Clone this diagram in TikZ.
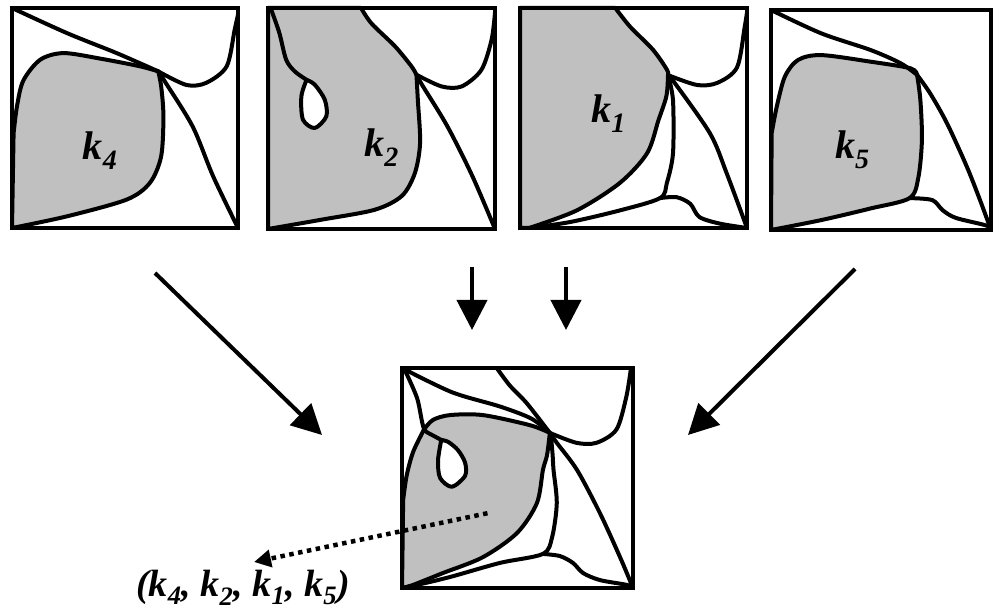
\documentclass[tikz,border=0pt]{standalone}
\usepackage{fontspec}
\setmainfont{Liberation Serif}
\usetikzlibrary{arrows.meta}
\definecolor{fillgray}{RGB}{192,192,192}
\tikzset{
  curve/.style={line width=4pt, line join=round, line cap=round},
  frame/.style={line width=3.5pt},
  region/.style={fill=fillgray},
  hole/.style={fill=white},
  bigarrow/.style={line width=4pt, -{Triangle[length=30pt,width=30pt]}},
  dotarrow/.style={line width=4.5pt, dash pattern=on 4.5pt off 4.5pt, -{Triangle[length=17pt,width=17pt]}},
  klabel/.style={font=\fontsize{40}{40}\selectfont\bfseries\itshape, inner sep=0pt},
  tuplelabel/.style={font=\fontsize{38}{38}\selectfont\bfseries\itshape, inner sep=0pt},
}
\begin{document}
\begin{tikzpicture}[x=1pt,y=1pt]
\useasboundingbox (0,0) rectangle (993,611);

% ---------- panel k4 ----------
\begin{scope}[shift={(12,383)},x=226pt,y=220pt]
  \filldraw[region,curve] plot[smooth] coordinates {(0.647,0.712) (0.566,0.735) (0.39,0.77) (0.228,0.795) (0.125,0.765) (0.05,0.67) (0.022,0.553) (0.007,0.43)}
    -- (0,0) -- plot[smooth] coordinates {(0,0) (0.243,0.053) (0.507,0.129) (0.61,0.205) (0.66,0.326) (0.67,0.51) (0.66,0.644) (0.647,0.712)} -- cycle;
  \draw[curve] plot[smooth] coordinates {(0,1) (0.243,0.886) (0.463,0.795) (0.647,0.712)};
  \draw[curve] plot[smooth] coordinates {(0.647,0.712) (0.772,0.65) (0.86,0.66) (0.95,0.735) (0.985,0.9) (1,0.97)};
  \draw[curve] plot[smooth] coordinates {(0.647,0.712) (0.68,0.66) (0.8,0.46) (0.89,0.235) (1,0)};
  \draw[frame] (0,0) rectangle (1,1);
  \node[klabel] (k4) at (0.39,0.35) {k\textsubscript{4}};
\end{scope}

% ---------- panel k2 ----------
\begin{scope}[shift={(268,382)},x=227pt,y=221pt]
  \filldraw[region,curve] (0,0) -- (0,1) -- (0.41,1)
    -- plot[smooth] coordinates {(0.41,1) (0.456,0.93) (0.56,0.826) (0.632,0.736) (0.654,0.698)}
    -- plot[smooth] coordinates {(0.654,0.698) (0.66,0.585) (0.67,0.39) (0.647,0.253) (0.59,0.15) (0.47,0.087) (0.235,0.042) (0,0)} -- cycle;
  \filldraw[hole,curve] plot[smooth] coordinates {(0.17,0.675) (0.147,0.6) (0.154,0.495) (0.206,0.457) (0.257,0.51) (0.25,0.585) (0.206,0.653) (0.17,0.675)} -- cycle;
  \draw[curve] plot[smooth] coordinates {(0.015,0.99) (0.05,0.887) (0.08,0.766) (0.118,0.713) (0.17,0.675)};
  \draw[curve] plot[smooth] coordinates {(0.654,0.698) (0.765,0.645) (0.853,0.645) (0.94,0.72) (0.985,0.857) (1,0.98)};
  \draw[curve] plot[smooth] coordinates {(0.654,0.698) (0.68,0.65) (0.79,0.465) (0.9,0.24) (1,0)};
  \draw[frame] (0,0) rectangle (1,1);
  \node[klabel] (k2) at (0.5,0.37) {k\textsubscript{2}};
\end{scope}

% ---------- panel k1 ----------
\begin{scope}[shift={(520,383)},x=227pt,y=220pt]
  \filldraw[region,curve] (0,0) -- (0,1) -- (0.42,1)
    -- plot[smooth] coordinates {(0.42,1) (0.485,0.915) (0.586,0.81) (0.647,0.72) (0.652,0.695)}
    -- plot[smooth] coordinates {(0.652,0.695) (0.645,0.6) (0.61,0.49) (0.56,0.34) (0.44,0.205) (0.25,0.08) (0.04,0)} -- cycle;
  \draw[curve] plot[smooth] coordinates {(0.652,0.695) (0.674,0.58) (0.674,0.34) (0.647,0.205) (0.617,0.136) (0.44,0.08) (0.22,0.027) (0.04,0)};
  \draw[curve] plot[smooth] coordinates {(0.617,0.136) (0.69,0.14) (0.75,0.11) (0.79,0.05) (0.88,0.02) (1,0)};
  \draw[curve] plot[smooth] coordinates {(0.652,0.695) (0.78,0.65) (0.87,0.66) (0.956,0.73) (0.99,0.915) (1,0.98)};
  \draw[curve] plot[smooth] coordinates {(0.652,0.695) (0.674,0.67) (0.837,0.43) (0.91,0.25) (1,0)};
  \draw[frame] (0,0) rectangle (1,1);
  \node[klabel] (k1) at (0.39,0.52) {k\textsubscript{1}};
\end{scope}

% ---------- panel k5 ----------
\begin{scope}[shift={(771,381)},x=220pt,y=220pt]
  \filldraw[region,curve] plot[smooth] coordinates {(0.664,0.705) (0.634,0.735) (0.453,0.765) (0.228,0.795) (0.123,0.773) (0.063,0.697) (0.026,0.56) (0.003,0.44)}
    -- (0,0) -- plot[smooth] coordinates {(0,0) (0.228,0.045) (0.453,0.098) (0.63,0.145) (0.67,0.24) (0.686,0.41) (0.679,0.59) (0.664,0.705)} -- cycle;
  \draw[curve] plot[smooth] coordinates {(0,1) (0.228,0.894) (0.453,0.818) (0.589,0.758) (0.664,0.705)};
  \draw[curve] plot[smooth] coordinates {(0.664,0.705) (0.724,0.62) (0.8,0.485) (0.89,0.288) (0.95,0.136) (1,0)};
  \draw[curve] plot[smooth] coordinates {(0.63,0.145) (0.733,0.136) (0.78,0.09) (0.84,0.055) (0.98,0.02) (1,0)};
  \draw[frame] (0,0) rectangle (1,1);
  \node[klabel] (k5) at (0.37,0.364) {k\textsubscript{5}};
\end{scope}

% ---------- combined panel ----------
\begin{scope}[shift={(402,23)},x=231pt,y=220pt]
  \filldraw[region,curve] plot[smooth] coordinates {(0.095,0.72) (0.134,0.764) (0.208,0.786) (0.35,0.786) (0.554,0.74) (0.64,0.705)}
    -- plot[smooth] coordinates {(0.64,0.705) (0.628,0.605) (0.61,0.536) (0.584,0.386) (0.498,0.25) (0.35,0.14) (0.177,0.068) (0.048,0.014) (0,0)}
    -- (0.005,0.4) -- plot[smooth] coordinates {(0.005,0.4) (0.02,0.51) (0.048,0.618) (0.095,0.72)} -- cycle;
  \filldraw[hole,curve] plot[smooth] coordinates {(0.17,0.673) (0.156,0.58) (0.165,0.5) (0.216,0.46) (0.273,0.51) (0.273,0.57) (0.242,0.627) (0.2,0.664) (0.17,0.673)} -- cycle;
  \draw[curve] plot[smooth] coordinates {(0.017,0.98) (0.065,0.864) (0.087,0.755) (0.1,0.715) (0.14,0.69) (0.17,0.673)};
  \draw[curve] plot[smooth] coordinates {(0,1) (0.216,0.89) (0.424,0.825) (0.56,0.77) (0.64,0.705)};
  \draw[curve] plot[smooth] coordinates {(0.41,1) (0.467,0.92) (0.54,0.84) (0.64,0.705)};
  \draw[curve] plot[smooth] coordinates {(0.64,0.705) (0.755,0.66) (0.842,0.66) (0.928,0.72) (0.97,0.864) (0.99,0.99)};
  \draw[curve] plot[smooth] coordinates {(0.64,0.705) (0.67,0.66) (0.758,0.536) (0.857,0.34) (0.944,0.14) (1,0)};
  \draw[curve] plot[smooth] coordinates {(0.645,0.69) (0.652,0.605) (0.656,0.536) (0.67,0.386) (0.65,0.232) (0.61,0.155) (0.424,0.114) (0.208,0.05) (0.065,0.014) (0,0)};
  \draw[curve] plot[smooth] coordinates {(0.61,0.155) (0.684,0.145) (0.74,0.114) (0.784,0.068) (0.857,0.036) (0.974,0.014) (1,0)};
  \draw[frame] (0,0) rectangle (1,1);
  \coordinate (dotstart) at (0.37,0.34);
\end{scope}

% ---------- arrows ----------
\coordinate (a1s) at (155,338);
\coordinate (a1e) at (322,176);
\coordinate (a2s) at (472,344);
\coordinate (a2e) at (472,281);
\coordinate (a3s) at (566,344);
\coordinate (a3e) at (566,281);
\coordinate (a4s) at (855,342);
\coordinate (a4e) at (688,176);
\draw[bigarrow] (a1s) -- (a1e);
\draw[bigarrow] (a2s) -- (a2e);
\draw[bigarrow] (a3s) -- (a3e);
\draw[bigarrow] (a4s) -- (a4e);

\coordinate (dotend) at (254,49);
\draw[dotarrow] (dotstart) -- (dotend);

\node[tuplelabel, anchor=base] (tuple) at (243,15) {(k\textsubscript{4}, k\textsubscript{2}, k\textsubscript{1}, k\textsubscript{5})};
\end{tikzpicture}
\end{document}
